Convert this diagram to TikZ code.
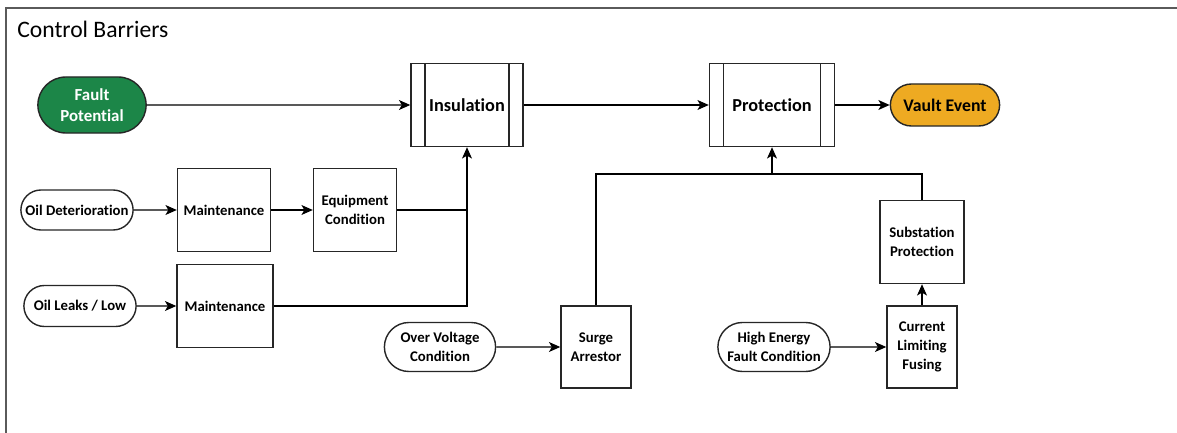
\documentclass[tikz,border=0pt]{standalone}
\usepackage{fontspec}
\setmainfont[Ligatures=NoCommon]{Carlito}
\usepackage{tikz}
\usetikzlibrary{shapes.misc,arrows.meta}
\definecolor{fgreen}{RGB}{28,134,72}
\definecolor{vorange}{RGB}{238,170,34}
\definecolor{frame}{RGB}{90,90,90}
\pgfdeclarelayer{edgelayer}
\pgfdeclarelayer{nodelayer}
\pgfsetlayers{edgelayer,nodelayer,main}
\tikzstyle{none}=[inner sep=0pt]
\tikzstyle{box}=[rectangle,draw=black!85,fill=white,line width=1pt,font=\bfseries\fontsize{10.5}{13.5}\selectfont,align=center,inner sep=2pt]
\tikzstyle{process}=[box,font=\bfseries\fontsize{13}{15}\selectfont,path picture={\draw[line width=1pt,black!85] ([xshift=0.35cm]path picture bounding box.north west) -- ([xshift=0.35cm]path picture bounding box.south west) ([xshift=-0.35cm]path picture bounding box.north east) -- ([xshift=-0.35cm]path picture bounding box.south east);}]
\tikzstyle{terminal}=[rounded rectangle,draw=black!85,fill=white,line width=1pt,font=\bfseries\fontsize{10.5}{13.5}\selectfont,align=center,inner sep=1pt]
\tikzstyle{inarrow}=[->, >={Stealth[length=8pt,width=7pt,inset=2pt]}, line width=1pt]
\tikzstyle{simple}=[-, line width=1pt]
\tikzstyle{title}=[inner sep=0pt,anchor=west,font=\fontsize{16.8}{18}\selectfont]

\begin{document}
\begin{tikzpicture}[x=0.025cm,y=-0.025cm]
	\useasboundingbox (0,0) rectangle (1177,433);
	\draw [frame, line width=1pt] (6,433) -- (6,8) -- (1177,8);
	\begin{pgfonlayer}{nodelayer}
		\node [style=title] (ttl) at (17,29) {Control Barriers};
		\node [style=terminal, fill=fgreen, text=white, font=\bfseries\fontsize{12}{15}\selectfont, minimum width=2.775cm, minimum height=1.4cm] (fault) at (92,105) {Fault\\Potential};
		\node [style=process, minimum width=2.8cm, minimum height=2.075cm] (insul) at (467,105) {Insulation};
		\node [style=process, minimum width=3.125cm, minimum height=2.075cm] (prot) at (772,105) {Protection};
		\node [style=terminal, fill=vorange, font=\bfseries\fontsize{12.6}{15}\selectfont, minimum width=2.8cm, minimum height=1.05cm] (vault) at (945,105) {Vault Event};
		\node [style=terminal, minimum width=2.875cm, minimum height=1cm] (oildet) at (77,210) {Oil Deterioration};
		\node [style=box, minimum width=2.325cm, minimum height=2.075cm] (maintA) at (224,210) {Maintenance};
		\node [style=box, minimum width=2.075cm, minimum height=2.075cm] (equip) at (355,210) {Equipment\\Condition};
		\node [style=terminal, minimum width=2.875cm, minimum height=1.025cm] (oilleak) at (80,306) {Oil Leaks / Low};
		\node [style=box, minimum width=2.4cm, minimum height=2.075cm] (maintB) at (225,306) {Maintenance};
		\node [style=terminal, minimum width=2.85cm, minimum height=1.225cm] (overv) at (440,347) {Over Voltage\\Condition};
		\node [style=box, minimum width=1.75cm, minimum height=2.05cm] (surge) at (596,347) {Surge\\Arrestor};
		\node [style=terminal, minimum width=2.875cm, minimum height=1.225cm] (highe) at (774,347) {High Energy\\Fault Condition};
		\node [style=box, minimum width=1.75cm, minimum height=2.05cm] (clf) at (922,347) {Current\\Limiting\\Fusing};
		\node [style=box, minimum width=2.1cm, minimum height=2.075cm] (subst) at (922,242) {Substation\\Protection};
		\node [style=none] (jI) at (467,210) {};
		\node [style=none] (jP) at (772,174) {};
	\end{pgfonlayer}
	\begin{pgfonlayer}{edgelayer}
		\draw [style=inarrow] (fault) to (insul);
		\draw [style=inarrow] (insul) to (prot);
		\draw [style=inarrow] (prot) to (vault);
		\draw [style=inarrow] (oildet) to (maintA);
		\draw [style=inarrow] (maintA) to (equip);
		\draw [style=simple] (equip) to (jI.center);
		\draw [style=inarrow] (oilleak) to (maintB);
		\draw [style=inarrow] (maintB) -| (insul);
		\draw [style=inarrow] (overv) to (surge);
		\draw [style=simple] (surge) |- (jP.center);
		\draw [style=simple] (subst) |- (jP.center);
		\draw [style=inarrow] (jP.center) to (prot);
		\draw [style=inarrow] (highe) to (clf);
		\draw [style=inarrow] (clf) to (subst);
	\end{pgfonlayer}
\end{tikzpicture}
\end{document}
